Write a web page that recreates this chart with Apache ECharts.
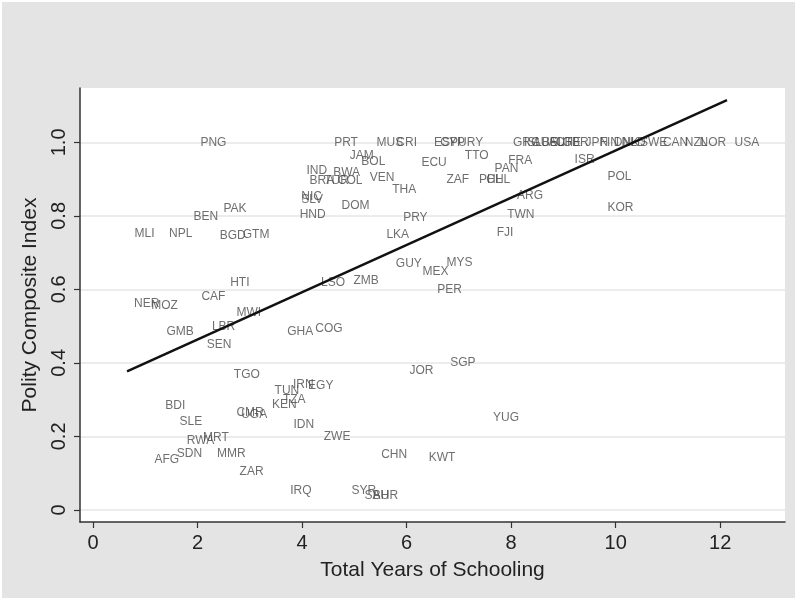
<!DOCTYPE html>
<html>
<head>
<meta charset="utf-8">
<script src="https://cdn.jsdelivr.net/npm/echarts@6/dist/echarts.min.js"></script>
<style>
html,body{margin:0;padding:0;background:#fff;}
#chart{position:absolute;left:2px;top:2px;width:793px;height:596px;}
</style>
</head>
<body>
<div id="chart"></div>
<script>
// Country codes, years of schooling and polity index
var countries = ["PNG","PRT","MUS","CRI","ESP","CYP","URY","GRC","ISL","AUS","BEL","AUT","CHE","GBR","JPN","FIN","DNK","NLD","SWE","CAN","NZL","NOR","USA",
"JAM","BOL","TTO","ECU","FRA","PAN","ISR","IND","BWA","BRA","TUR","COL","VEN","ZAF","PHL","CHL","POL","THA","ARG","NIC","SLV","DOM","PAK","KOR","HND","BEN","TWN","PRY",
"MLI","NPL","BGD","GTM","LKA","FJI","GUY","MYS","MEX","ZMB","LSO","HTI","PER","CAF","NER","MOZ","MWI","LBR","COG","GMB","GHA","SEN",
"SGP","JOR","TGO","IRN","EGY","TUN","TZA","KEN","BDI","CMR","UGA","YUG","SLE","IDN","ZWE","MRT","RWA","SDN","MMR","CHN","KWT","AFG","ZAR","IRQ","SYR","SAU","BHR"];
var schooling = [1.91,4.47,5.28,5.66,6.38,6.50,6.84,7.89,8.10,8.27,8.44,8.57,8.71,8.84,9.28,9.55,9.82,9.97,10.32,10.76,11.18,11.46,12.13,
4.77,4.99,6.97,6.14,7.80,7.54,9.07,3.94,4.45,4.00,4.28,4.54,5.15,6.62,7.24,7.38,9.70,5.58,7.97,3.84,3.84,4.61,2.35,9.70,3.81,1.78,7.78,5.79,
0.65,1.31,2.28,2.72,5.47,7.58,5.65,6.62,6.16,4.84,4.22,2.48,6.44,1.93,0.64,0.97,2.60,2.13,4.11,1.26,3.57,2.03,
6.69,5.91,2.55,3.68,3.97,3.33,3.49,3.28,1.24,2.60,2.69,7.51,1.51,3.69,4.27,1.96,1.65,1.46,2.23,5.37,6.28,1.03,2.66,3.63,4.80,5.05,5.21];
var polity = [1.0,1.0,1.0,1.0,1.0,1.0,1.0,1.0,1.0,1.0,1.0,1.0,1.0,1.0,1.0,1.0,1.0,1.0,1.0,1.0,1.0,1.0,1.0,
0.965,0.947,0.965,0.944,0.949,0.929,0.954,0.924,0.917,0.897,0.897,0.897,0.903,0.899,0.899,0.899,0.908,0.870,0.854,0.852,0.844,0.829,0.820,0.821,0.804,0.799,0.803,0.795,
0.752,0.752,0.747,0.750,0.749,0.753,0.671,0.674,0.649,0.624,0.619,0.617,0.599,0.580,0.562,0.556,0.537,0.499,0.494,0.486,0.484,0.449,
0.401,0.378,0.369,0.340,0.337,0.323,0.300,0.287,0.284,0.264,0.258,0.251,0.239,0.232,0.200,0.196,0.187,0.152,0.152,0.150,0.141,0.137,0.103,0.053,0.052,0.038,0.038];
// Fitted line endpoints
var fitX = [0.65, 12.13];
var fitY = [0.377, 1.115];
var xTicks = [0,2,4,6,8,10,12];
var yTicks = [0,0.2,0.4,0.6,0.8,1.0];

var pts = countries.map(function(c,i){ return {name:c, value:[schooling[i], polity[i]]}; });
var fit = fitX.map(function(x,i){ return [x, fitY[i]]; });

var chart = echarts.init(document.getElementById('chart'));
chart.setOption({
  backgroundColor:'#e4e4e4',
  animation:false,
  textStyle:{fontFamily:'"Liberation Sans", Arial, sans-serif'},
  grid:{left:78, top:86, right:10, bottom:76, show:true, backgroundColor:'#ffffff', borderWidth:0},
  xAxis:{
    type:'value', min:-0.25, max:13.24,
    name:'Total Years of Schooling', nameLocation:'middle', nameGap:38,
    nameTextStyle:{fontSize:21, color:'#222'},
    axisLine:{show:true, onZero:false, lineStyle:{color:'#333', width:1.5}},
    axisTick:{show:true, length:6, customValues:xTicks, lineStyle:{color:'#333', width:1.2}},
    axisLabel:{fontSize:20, color:'#222', margin:11, customValues:xTicks},
    splitLine:{show:false}
  },
  yAxis:{
    type:'value', min:-0.033, max:1.148,
    name:'Polity Composite Index', nameLocation:'middle', nameGap:33, nameRotate:90,
    nameTextStyle:{fontSize:21, color:'#222'},
    axisLine:{show:true, onZero:false, lineStyle:{color:'#333', width:1.5}},
    axisTick:{show:true, length:6, customValues:yTicks, lineStyle:{color:'#333', width:1.2}},
    axisLabel:{fontSize:20, color:'#222', margin:11, rotate:90, customValues:yTicks,
      formatter:function(v){ return v===0 ? '0' : v.toFixed(1); }},
    splitLine:{show:false}
  },
  series:[
    {
      type:'scatter', data:[], silent:true, z:0,
      markLine:{silent:true, z:0, symbol:['none','none'], label:{show:false},
        lineStyle:{color:'#e6e6e6', width:1.5, type:'solid'},
        data:yTicks.map(function(v){ return {yAxis:v}; })}
    },
    {
      type:'scatter', data:pts, symbolSize:1, itemStyle:{color:'rgba(0,0,0,0)'},
      label:{show:true, position:'right', distance:7, offset:[0,1.5], formatter:'{b}', fontSize:12, color:'#4a4a4a',
        fontFamily:'"Liberation Sans", Arial, sans-serif'},
      labelLayout:{hideOverlap:false},
      z:4
    },
    {
      type:'line', data:fit, showSymbol:false, symbol:'none',
      lineStyle:{color:'#111', width:2.5}, z:5
    }
  ]
});
</script>
</body>
</html>
